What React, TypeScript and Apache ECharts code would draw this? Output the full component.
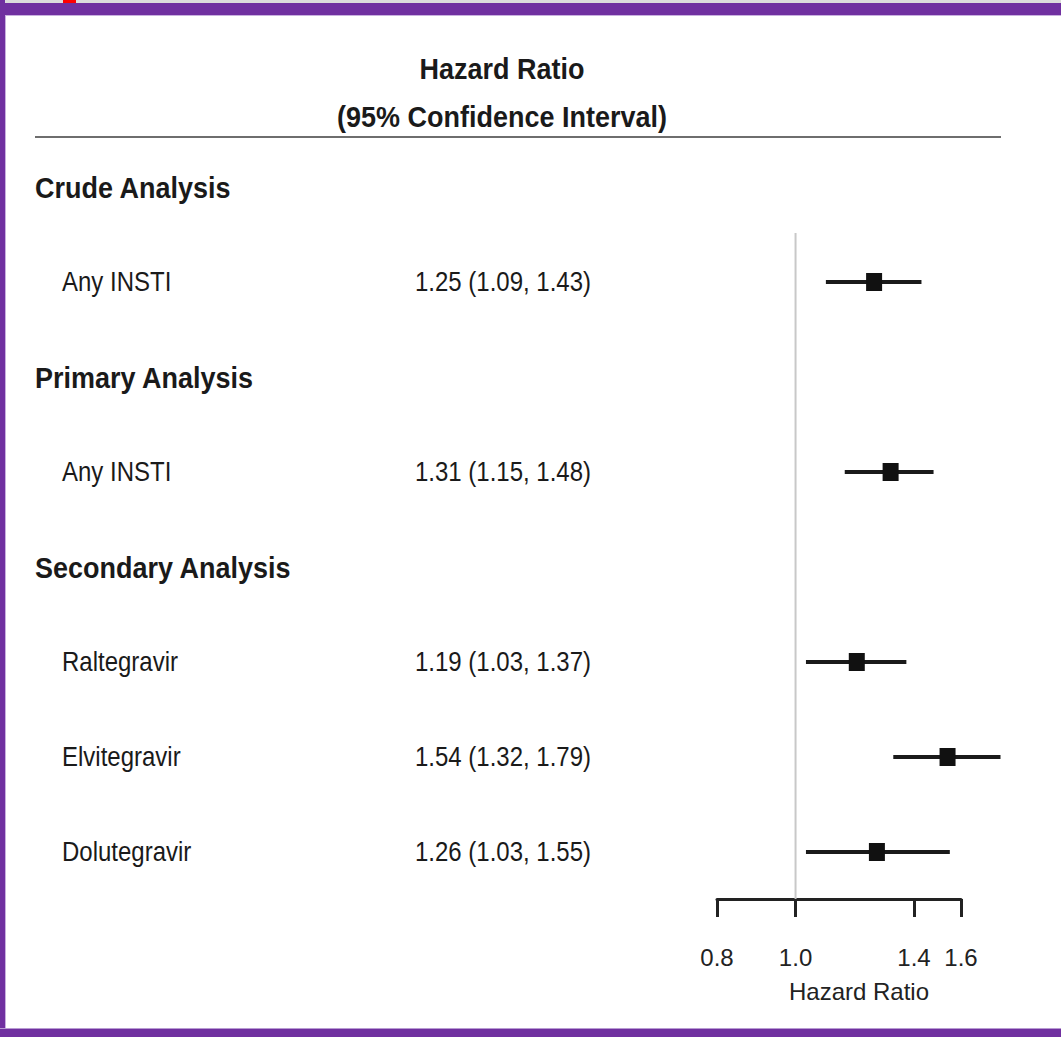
import React, { useEffect, useRef } from "react";
import * as echarts from "echarts";

// ---- data ----
const rowLabels = [
  "Crude Analysis",
  "Any INSTI",
  "Primary Analysis",
  "Any INSTI",
  "Secondary Analysis",
  "Raltegravir",
  "Elvitegravir",
  "Dolutegravir",
];
const rowIsHeading = [true, false, true, false, true, false, false, false];
const hazardRatio = [null, 1.25, null, 1.31, null, 1.19, 1.54, 1.26];
const ciLower = [null, 1.09, null, 1.15, null, 1.03, 1.32, 1.03];
const ciUpper = [null, 1.43, null, 1.48, null, 1.37, 1.79, 1.55];
const tickValues = [0.8, 1.0, 1.4, 1.6];
const axisMin = 0.8;
const axisMax = 1.6;
const referenceValue = 1.0;
const headerLines = ["Hazard Ratio", "(95% Confidence Interval)"];
const axisTitle = "Hazard Ratio";

const W = 1061;
const H = 1037;
const PURPLE = "#7030a0";
const FONT = "'Liberation Sans', Arial, Helvetica, sans-serif";

const fmt = (v: number) => v.toFixed(2);

export default function App() {
  const ref = useRef<HTMLDivElement>(null);

  useEffect(() => {
    document.body.style.margin = "0";
    if (!ref.current) return;
    const chart = echarts.init(ref.current, undefined, { renderer: "svg" });

    const yMin = -0.5263;
    const yMax = 7.4947;
    const refTop = 0.484;

    const ciData: number[][] = [];
    hazardRatio.forEach((v, i) => {
      if (v == null) return;
      ciData.push([
        Math.log(ciLower[i] as number),
        Math.log(ciUpper[i] as number),
        Math.log(v),
        i,
      ]);
    });

    chart.setOption({
      animation: false,
      backgroundColor: "#ffffff",
      grid: { left: 717, right: W - 961, top: 137, bottom: H - 899, containLabel: false },
      xAxis: {
        type: "value",
        position: "bottom",
        min: Math.log(axisMin),
        max: Math.log(axisMax),
        splitLine: { show: false },
        axisLine: { show: true, onZero: false, lineStyle: { color: "#222", width: 3 } },
        axisTick: {
          show: true,
          length: 18,
          inside: false,
          lineStyle: { color: "#222", width: 3 },
          customValues: tickValues.map((v) => Math.log(v)),
        },
        axisLabel: {
          show: true,
          margin: 46,
          fontSize: 24,
          fontFamily: FONT,
          color: "#222",
          customValues: tickValues.map((v) => Math.log(v)),
          formatter: (v: number) => Math.exp(v).toFixed(1),
        },
        name: axisTitle,
        nameLocation: "middle",
        nameGap: 80,
        nameTextStyle: { fontSize: 24, fontFamily: FONT, color: "#222", padding: [0, 0, 0, 40] },
      },
      yAxis: {
        type: "value",
        inverse: true,
        min: yMin,
        max: yMax,
        show: false,
      },
      series: [
        {
          type: "line",
          data: [
            [Math.log(referenceValue), refTop],
            [Math.log(referenceValue), yMax],
          ],
          symbol: "none",
          lineStyle: { color: "#c8c8c8", width: 2 },
          z: 2,
        },
        {
          type: "custom",
          clip: false,
          z: 3,
          data: ciData,
          encode: { x: [0, 1, 2], y: 3 },
          renderItem: (params: any, api: any) => {
            const row = api.value(3);
            const p1 = api.coord([api.value(0), row]);
            const p2 = api.coord([api.value(1), row]);
            const pc = api.coord([api.value(2), row]);
            return {
              type: "group",
              children: [
                {
                  type: "line",
                  shape: { x1: p1[0], y1: p1[1], x2: p2[0], y2: p2[1] },
                  style: { stroke: "#1a1a1a", lineWidth: 4 },
                },
                {
                  type: "rect",
                  shape: { x: pc[0] - 8, y: pc[1] - 9, width: 16, height: 18 },
                  style: { fill: "#111111" },
                },
              ],
            };
          },
        },
      ],
    });

    const graphics: any[] = [
      // frame
      { type: "rect", shape: { x: 0, y: 0, width: W, height: 3 }, style: { fill: "#dcdcdc" }, z: 10 },
      { type: "rect", shape: { x: 63, y: 0, width: 13, height: 3 }, style: { fill: "#ff0000" }, z: 11 },
      { type: "rect", shape: { x: 0, y: 3, width: W, height: 12 }, style: { fill: PURPLE }, z: 10 },
      { type: "rect", shape: { x: 0, y: 15, width: W, height: 1 }, style: { fill: "#c9b0df" }, z: 10 },
      { type: "rect", shape: { x: 0, y: 0, width: 5, height: H }, style: { fill: PURPLE }, z: 10 },
      { type: "rect", shape: { x: 5, y: 16, width: 1, height: 1013 }, style: { fill: "#c9b0df" }, z: 10 },
      { type: "rect", shape: { x: 0, y: 1028, width: W, height: 1 }, style: { fill: "#b89ad2" }, z: 10 },
      { type: "rect", shape: { x: 0, y: 1029, width: W, height: 8 }, style: { fill: PURPLE }, z: 10 },
      // header rule
      { type: "line", shape: { x1: 35, y1: 137, x2: 1001, y2: 137 }, style: { stroke: "#6e6e6e", lineWidth: 2 } },
    ];

    const headerY = [68, 116];
    headerLines.forEach((t, i) => {
      graphics.push({
        type: "text",
        x: 502,
        y: headerY[i],
        scaleY: 1.12,
        style: {
          text: t,
          font: `bold 27px ${FONT}`,
          fill: "#1a1a1a",
          align: "center",
          verticalAlign: "middle",
        },
      });
    });

    rowLabels.forEach((label, i) => {
      const py = chart.convertToPixel({ gridIndex: 0 }, [0, i])[1];
      const heading = rowIsHeading[i];
      graphics.push({
        type: "text",
        x: heading ? 35 : 62,
        y: py,
        scaleY: 1.12,
        style: {
          text: label,
          font: heading ? `bold 27px ${FONT}` : `24px ${FONT}`,
          fill: "#1a1a1a",
          align: "left",
          verticalAlign: "middle",
        },
      });
      const v = hazardRatio[i];
      if (v != null) {
        graphics.push({
          type: "text",
          x: 415,
          y: py,
          scaleY: 1.12,
          style: {
            text: `${fmt(v)} (${fmt(ciLower[i] as number)}, ${fmt(ciUpper[i] as number)})`,
            font: `24px ${FONT}`,
            fill: "#1a1a1a",
            align: "left",
            verticalAlign: "middle",
          },
        });
      }
    });

    chart.setOption({ graphic: { elements: graphics } });

    return () => chart.dispose();
  }, []);

  return <div ref={ref} style={{ width: W, height: H }} />;
}
